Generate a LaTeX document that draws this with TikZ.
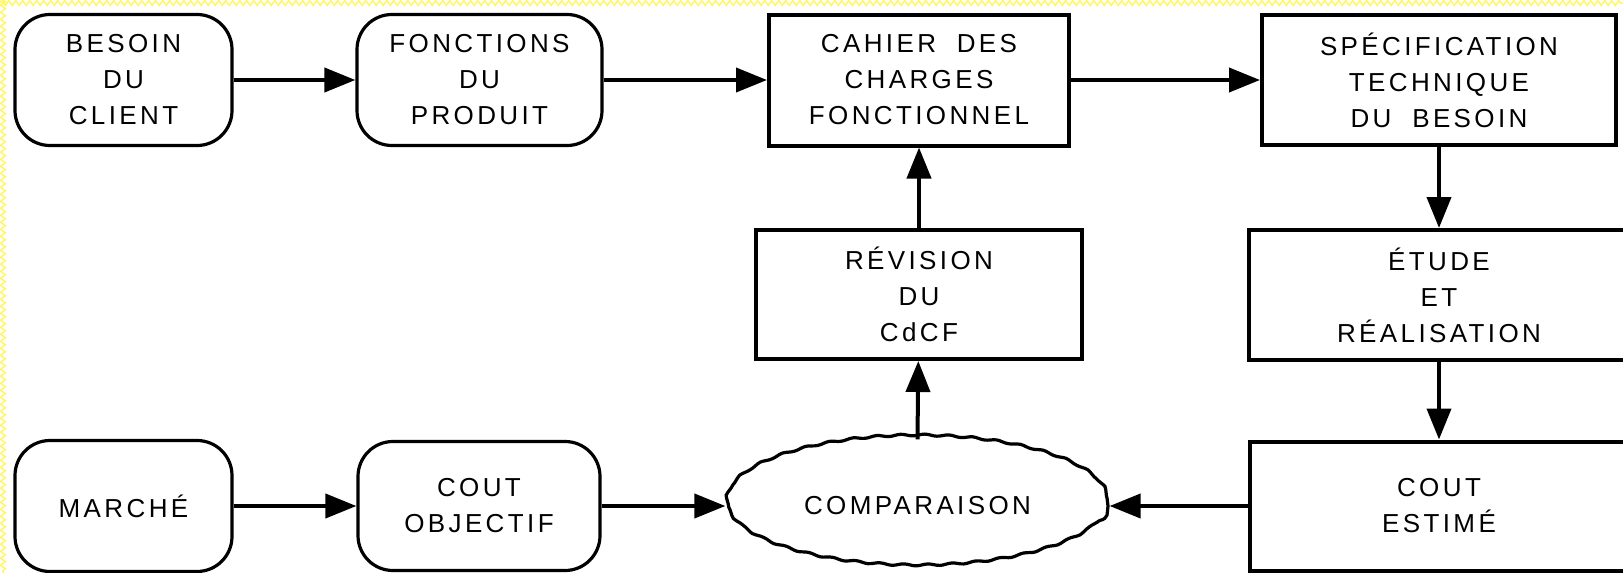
\documentclass[tikz,border=0pt]{standalone}
\usepackage{fontspec}
\newfontfamily\boxfont{Liberation Sans}[LetterSpace=13]
\usetikzlibrary{arrows.meta,shapes.geometric,decorations.pathmorphing}
\tikzset{
	rbox/.style={draw, line width=3.2pt, rounded corners=35pt, align=center, inner sep=0pt, font=\boxfont\fontsize{26}{36}\selectfont},
	sbox/.style={draw, line width=4pt, align=center, inner sep=0pt, font=\boxfont\fontsize{26}{36}\selectfont},
	cloud/.style={ellipse, draw, line width=3.2pt, inner sep=0pt, font=\boxfont\fontsize{26}{36}\selectfont,
		decorate, decoration={snake, amplitude=0.9pt, segment length=24pt}},
	flow/.style={line width=4pt, -{Triangle[length=31pt,width=24pt]}},
	hatch/.style={yellow!60, line width=1.5pt, decorate, decoration={zigzag, segment length=7pt, amplitude=2.5pt}}
}

\begin{document}
\begin{tikzpicture}[x=1pt, y=-1pt]
		%%%%% START %%%%%
		
		\clip (0, 0) rectangle (1623, 573);
		\fill[white] (0, 0) rectangle (1623, 573);
		\draw[hatch] (0, 3) -- (1623, 3);
		\draw[hatch] (3, 0) -- (3, 573);
		
		\node[rbox, minimum width=217pt, minimum height=131pt] (besoin) at (123.5, 80) {BESOIN\\DU\\CLIENT};
		\node[rbox, minimum width=245pt, minimum height=131pt] (fonctions) at (479.5, 80) {FONCTIONS\\DU\\PRODUIT};
		\node[sbox, minimum width=300pt, minimum height=131pt] (cdcf) at (919, 80) {CAHIER\hspace{0.8em}DES\\CHARGES\\FONCTIONNEL};
		\node[sbox, minimum width=354pt, minimum height=130pt] (stb) at (1439, 80) {SPÉCIFICATION\\TECHNIQUE\\DU\hspace{0.8em}BESOIN};
		
		\node[sbox, minimum width=326pt, minimum height=129pt] (revision) at (919, 294.5) {RÉVISION\\DU\\CdCF};
		\node[sbox, minimum width=380pt, minimum height=130pt] (etude) at (1439, 295) {ÉTUDE\\ET\\RÉALISATION};
		
		\node[rbox, minimum width=217pt, minimum height=131pt] (marche) at (123.5, 506) {MARCHÉ};
		\node[rbox, minimum width=242pt, minimum height=129pt] (objectif) at (479, 506) {COUT\\OBJECTIF};
		\node[cloud, minimum width=381pt, minimum height=130pt] (comparaison) at (917.5, 506) {COMPARAISON};
		\node[sbox, minimum width=378pt, minimum height=129pt] (estime) at (1439, 506) {COUT\\ESTIMÉ};
		
		\draw[flow] (besoin) -- (fonctions);
		\draw[flow] (fonctions) -- (cdcf);
		\draw[flow] (cdcf) -- (stb);
		\draw[flow] (stb) -- (etude);
		\draw[flow] (etude) -- (estime);
		\draw[flow] (estime.west) -- (comparaison.east);
		\draw[flow] (marche) -- (objectif);
		\draw[flow] (objectif.east) -- (comparaison.west);
		\draw[flow] (comparaison.north) -- (revision);
		\draw[flow] (revision) -- (cdcf);
		
		%%%%% END %%%%%
	\end{tikzpicture}
\end{document}
